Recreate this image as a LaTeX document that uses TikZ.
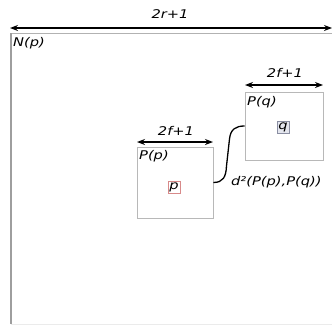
\documentclass[tikz,border=0pt]{standalone}
\usepackage{fontspec}
\newfontfamily\lbl[FakeStretch=1.22]{DejaVu Sans}
\usetikzlibrary{arrows.meta}
\definecolor{qfill}{HTML}{E4E6EE}
\definecolor{qdraw}{HTML}{8A8EA2}
\definecolor{pdraw}{HTML}{D88A8A}
\begin{document}
\begin{tikzpicture}[x=1pt,y=-1pt,
  lab/.style={font=\lbl\itshape\fontsize{12}{14}\selectfont, inner sep=0pt},
  dimline/.style={{Stealth[length=8pt,width=6pt]}-{Stealth[length=8pt,width=6pt]}, line width=1.6pt},
  win/.style={draw=black!28, line width=0.8pt, inner sep=0pt},
  pix/.style={lab, inner sep=1.2pt, minimum width=12pt, minimum height=12pt, line width=0.8pt}]
\useasboundingbox (0,0) rectangle (332,327);
% big neighbourhood
\coordinate (bigL) at (10,28);
\coordinate (bigR) at (332,28);
\draw[dimline] (bigL) -- (bigR);
\node[lab] (r) at (170,14) {2r+1};
\draw[draw=black!30, line width=0.9pt] (345,33) -- (11,33);
\draw[draw=black!38, line width=1.6pt] (11,33) -- (11,324);
\draw[draw=black!8, line width=0.8pt] (11,324) -- (345,324);
\node[lab, anchor=west] (Np) at (13,43) {N(p)};
% P(q)
\node[win, minimum width=78pt, minimum height=68pt] (Pq) at (284,126) {};
\coordinate (qL) at (245,85);
\coordinate (qR) at (323,85);
\draw[dimline] (qL) -- (qR);
\node[lab] (fq) at (285,73) {2f+1};
\node[lab, anchor=west] (Pqt) at (247,102) {P(q)};
\node[pix, draw=qdraw, fill=qfill] (q) at (283,127) {q};
% P(p)
\node[win, minimum width=76pt, minimum height=71pt] (Pp) at (175,182.5) {};
\coordinate (pL) at (137,142);
\coordinate (pR) at (213,142);
\draw[dimline] (pL) -- (pR);
\node[lab] (fp) at (176,131) {2f+1};
\node[lab, anchor=west] (Ppt) at (139,156) {P(p)};
\node[pix, draw=pdraw, fill=white] (p) at (174,187) {p};
% distance curve
\draw[line width=1.3pt] (Pp.east) .. controls (223,182.5) and (226,177) .. (226.5,166)
  -- (229.5,139) .. controls (230.5,129) and (236,126) .. (Pq.west);
\node[lab, anchor=west] (d) at (231,182) {d²(P(p),P(q))};
\end{tikzpicture}
\end{document}
